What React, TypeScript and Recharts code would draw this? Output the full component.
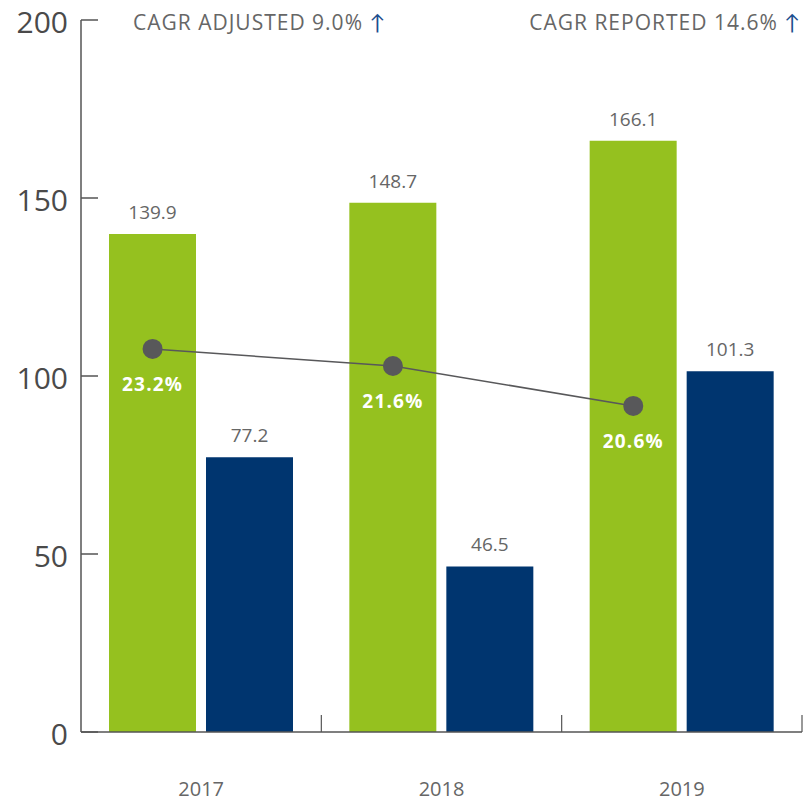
import {
  Bar,
  ComposedChart,
  LabelList,
  ReferenceLine,
  Scatter,
  XAxis,
  YAxis,
} from "recharts";

const years = ["2017", "2018", "2019"];
const adjusted = [139.9, 148.7, 166.1];
const reported = [77.2, 46.5, 101.3];
// margin line: drawn level of each dot on the left scale, with its label
const marginLevel = [107.6, 102.8, 91.6];
const marginLabels = ["23.2%", "21.6%", "20.6%"];
const yTicks = [0, 50, 100, 150, 200];

const GREEN = "#95c11f";
const BLUE = "#00356f";
const DOT = "#58585a";
const TEXT = "#666";
const AXIS = "#555";
const FONT = "'Open Sans', Lato, sans-serif";

const W = 804;
const H = 802;
const MARGIN = { top: 20, right: 2, left: 0, bottom: 10 };
const Y_W = 81;
const BAND = (W - MARGIN.left - MARGIN.right - Y_W) / years.length;
const CAT_GAP = 28;
const BAR_GAP = 10;
const BAR_W = (BAND - 2 * CAT_GAP - BAR_GAP) / 2;
const DOT_OFFSET = (CAT_GAP + BAR_W / 2) / BAND;

const data = years.map((year, i) => ({
  year,
  adjusted: adjusted[i],
  reported: reported[i],
}));

const dots = years.map((_, i) => ({
  x: i + DOT_OFFSET,
  y: marginLevel[i],
  label: marginLabels[i],
}));

function YTick(props: any) {
  const { x, y, payload } = props;
  return (
    <g>
      <line x1={x} x2={x + 17} y1={y} y2={y} stroke={AXIS} strokeWidth={1.5} />
      <text
        x={x - 13}
        y={y + 2}
        dy="0.35em"
        textAnchor="end"
        fill="#4a4a4a"
        fontSize={30}
        fontFamily={FONT}
      >
        {payload.value}
      </text>
    </g>
  );
}

function BoundaryTick(props: any) {
  const { x1, y1, y2 } = props;
  const bottom = Math.max(y1, y2);
  return <line x1={x1} x2={x1} y1={bottom - 17} y2={bottom} stroke={AXIS} strokeWidth={1.2} />;
}

function MarginLabel(props: any) {
  const { x, y, width, height, value } = props;
  const cx = x + (width ?? 0) / 2;
  const cy = y + (height ?? 0) / 2;
  return (
    <text
      x={cx}
      y={cy + 35}
      dy="0.35em"
      textAnchor="middle"
      fill="#fff"
      fontWeight={700}
      fontSize={19}
      letterSpacing={1.2}
      fontFamily={FONT}
    >
      {value}
    </text>
  );
}

export default function App() {
  return (
    <div style={{ position: "absolute", left: 0, top: 0, width: W, height: H, fontFamily: FONT }}>
      <ComposedChart
        width={W}
        height={H}
        data={data}
        margin={MARGIN}
        barCategoryGap={CAT_GAP}
        barGap={BAR_GAP}
      >
        <XAxis
          dataKey="year"
          axisLine={{ stroke: AXIS, strokeWidth: 1.5 }}
          tickLine={false}
          tickSize={0}
          tickMargin={50}
          height={60}
          tick={{ fontSize: 20, fill: TEXT, fontFamily: FONT }}
        />
        <XAxis xAxisId="pos" dataKey="x" type="number" domain={[0, 3]} hide />
        <YAxis
          domain={[0, 200]}
          ticks={yTicks}
          width={Y_W}
          tickSize={0}
          tickMargin={0}
          tickLine={false}
          axisLine={{ stroke: AXIS, strokeWidth: 1.5 }}
          tick={<YTick />}
          interval={0}
        />
        <Bar dataKey="adjusted" fill={GREEN} isAnimationActive={false}>
          <LabelList
            dataKey="adjusted"
            position="top"
            offset={15}
            fill={TEXT}
            fontSize={19}
            fontFamily={FONT}
          />
        </Bar>
        <Bar dataKey="reported" fill={BLUE} isAnimationActive={false}>
          <LabelList
            dataKey="reported"
            position="top"
            offset={15}
            fill={TEXT}
            fontSize={19}
            fontFamily={FONT}
          />
        </Bar>
        {[1, 2, 3].map((b) => (
          <ReferenceLine key={b} x={b} xAxisId="pos" shape={<BoundaryTick />} />
        ))}
        <Scatter
          data={dots}
          xAxisId="pos"
          dataKey="y"
          fill={DOT}
          line={{ stroke: DOT, strokeWidth: 1.5 }}
          shape={(p: any) => <circle cx={p.cx} cy={p.cy} r={10} fill={DOT} />}
          isAnimationActive={false}
        >
          <LabelList dataKey="label" content={<MarginLabel />} />
        </Scatter>
      </ComposedChart>
      <div
        style={{
          position: "absolute",
          left: 133,
          top: 8,
          fontSize: 21,
          letterSpacing: 1,
          color: TEXT,
          whiteSpace: "nowrap",
        }}
      >
        CAGR ADJUSTED 9.0% <span style={{ color: "#1d4f8f" }}>↑</span>
      </div>
      <div
        style={{
          position: "absolute",
          right: 3,
          top: 8,
          fontSize: 21,
          letterSpacing: 1,
          color: TEXT,
          whiteSpace: "nowrap",
        }}
      >
        CAGR REPORTED 14.6% <span style={{ color: "#1d4f8f" }}>↑</span>
      </div>
    </div>
  );
}
